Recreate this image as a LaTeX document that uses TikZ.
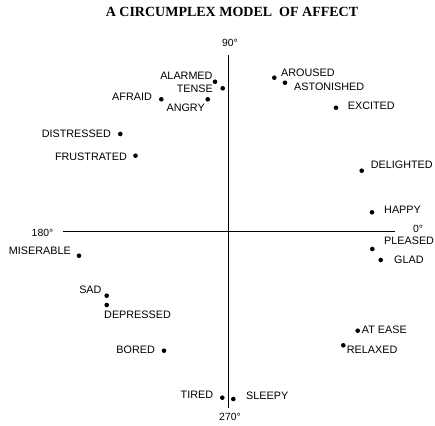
\documentclass[tikz,border=0pt]{standalone}
\usepackage{fontspec}
\setmainfont{Liberation Sans}
\newfontfamily\titlefont{Liberation Serif}
\tikzset{
    dot/.style={circle, fill=black, inner sep=0pt, minimum size=4.6pt},
    lbl/.style={inner sep=0pt, font=\fontsize{10.8}{12}\selectfont},
    deg/.style={inner sep=0pt, font=\fontsize{10.4}{11}\selectfont}
}
\begin{document}
\begin{tikzpicture}[x=1pt, y=-1pt]
    \useasboundingbox (0,0) rectangle (435,425);

    % Title
    \node[inner sep=0pt, font=\titlefont\bfseries\fontsize{14}{15}\selectfont] (title) at (232,12) {A CIRCUMPLEX MODEL\ \ OF AFFECT};

    % Axes
    \coordinate (top) at (228.7,55);
    \coordinate (bottom) at (228.7,408);
    \coordinate (left) at (62.7,231.7);
    \coordinate (right) at (395,231.7);
    \draw[line width=1pt] (top) -- (bottom);
    \draw[line width=1pt] (left) -- (right);
    \node[deg] (d90) at (230,43) {90°};
    \node[deg] (d180) at (42.5,232.5) {180°};
    \node[deg] (d0) at (418,229) {0°};
    \node[deg] (d270) at (230,417) {270°};

    % Points
    \node[dot] (alarmed) at (215,81.7) {};
    \node[dot] (tense) at (222.7,88.3) {};
    \node[dot] (afraid) at (161.3,99.3) {};
    \node[dot] (angry) at (207.7,99.3) {};
    \node[dot] (aroused) at (274.3,77.7) {};
    \node[dot] (astonished) at (285,82.7) {};
    \node[dot] (excited) at (336,107.7) {};
    \node[dot] (distressed) at (120.3,134) {};
    \node[dot] (frustrated) at (135.5,155.7) {};
    \node[dot] (delighted) at (361.7,170.7) {};
    \node[dot] (happy) at (372,212.3) {};
    \node[dot] (pleased) at (372.3,249) {};
    \node[dot] (glad) at (380.7,260) {};
    \node[dot] (miserable) at (79,255.7) {};
    \node[dot] (sad) at (106.7,295.7) {};
    \node[dot] (depressed) at (106.7,305) {};
    \node[dot] (bored) at (164,350.7) {};
    \node[dot] (atease) at (357.7,330.7) {};
    \node[dot] (relaxed) at (343.3,345.3) {};
    \node[dot] (tired) at (222.3,397.7) {};
    \node[dot] (sleepy) at (233.3,399) {};

    % Labels
    \node[lbl, anchor=east] (alarmed-l) at (212.7,76) {ALARMED};
    \node[lbl, anchor=east] (tense-l) at (213,89) {TENSE};
    \node[lbl, anchor=east] (afraid-l) at (152,96.7) {AFRAID};
    \node[lbl, anchor=east] (angry-l) at (205,108) {ANGRY};
    \node[lbl, anchor=west] (aroused-l) at (281,72.7) {AROUSED};
    \node[lbl, anchor=west] (astonished-l) at (294,86.7) {ASTONISHED};
    \node[lbl, anchor=west] (excited-l) at (347.7,105.3) {EXCITED};
    \node[lbl, anchor=east] (distressed-l) at (111,133.3) {DISTRESSED};
    \node[lbl, anchor=east] (frustrated-l) at (127,156.7) {FRUSTRATED};
    \node[lbl, anchor=west] (delighted-l) at (370.7,164.3) {DELIGHTED};
    \node[lbl, anchor=west] (happy-l) at (384,210) {HAPPY};
    \node[lbl, anchor=west] (pleased-l) at (384,241) {PLEASED};
    \node[lbl, anchor=west] (glad-l) at (394,260) {GLAD};
    \node[lbl, anchor=east] (miserable-l) at (71,251) {MISERABLE};
    \node[lbl, anchor=east] (sad-l) at (101.7,290) {SAD};
    \node[lbl, anchor=west] (depressed-l) at (104,315) {DEPRESSED};
    \node[lbl, anchor=east] (bored-l) at (155,349.3) {BORED};
    \node[lbl, anchor=west] (atease-l) at (361.7,329.3) {AT EASE};
    \node[lbl, anchor=west] (relaxed-l) at (346.7,350) {RELAXED};
    \node[lbl, anchor=east] (tired-l) at (213.3,395) {TIRED};
    \node[lbl, anchor=west] (sleepy-l) at (246,396) {SLEEPY};
\end{tikzpicture}
\end{document}
